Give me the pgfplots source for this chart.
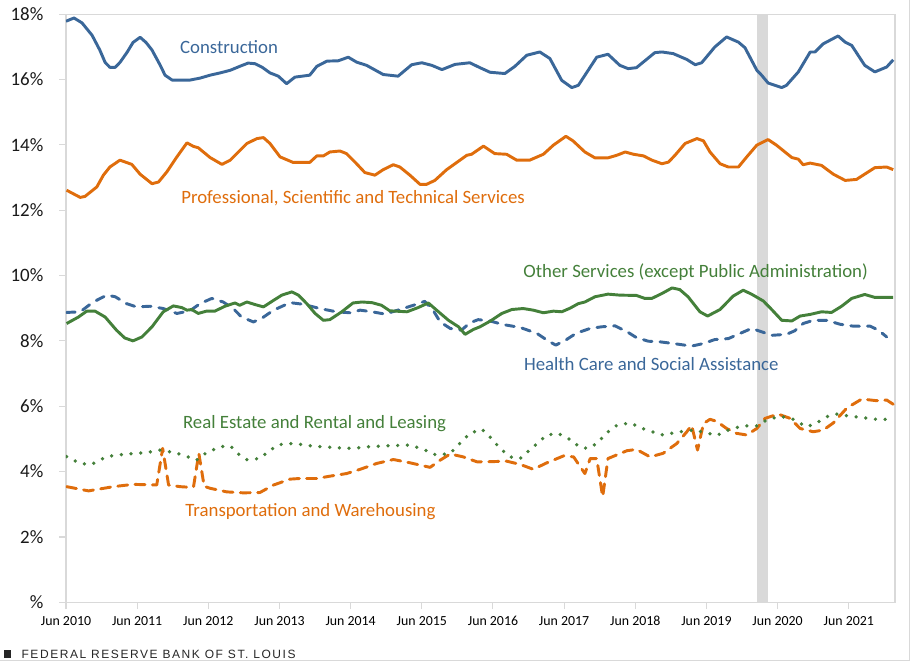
\documentclass[border=0pt]{standalone}
\usepackage{pgfplots}
\pgfplotsset{compat=1.18}
\usepackage{fontspec}
\setmainfont{Carlito}
\newfontfamily\footfont[LetterSpace=13]{Liberation Sans}
\definecolor{cblue}{HTML}{3A6799}
\definecolor{corange}{HTML}{DF6D0C}
\definecolor{cgreen}{HTML}{44803A}
\definecolor{lgray}{HTML}{D9D9D9}
\tikzset{lblfont/.style={font=\fontsize{14.1}{16}\selectfont}}
\begin{document}
\begin{tikzpicture}
\useasboundingbox (0,0) rectangle (682.5pt,495.75pt);
\draw[lgray, line width=0.75pt] (0,0.4pt) -- (682pt,0.4pt) -- (682pt,495.75pt);
\fill[black!85] (3pt,2.5pt) rectangle (8.5pt,8pt);
\node[anchor=west, inner sep=0pt, text=black!85] at (16pt,5.3pt) {\footfont\fontsize{9}{10}\selectfont FEDERAL RESERVE BANK OF ST. LOUIS};
\begin{axis}[
  at={(49.5pt,44pt)}, anchor=south west,
  scale only axis, width=621.75pt, height=441.2pt,
  xmin=0, xmax=139.8, ymin=0, ymax=18,
  axis line style={lgray, line width=0.8pt},
  tick style={lgray, line width=0.8pt},
  tick align=outside, major tick length=5pt,
  xtick pos=bottom, ytick pos=left,
  xtick={0,12,24,36,48,60,72,84,96,108,120,132},
  xticklabels={Jun 2010,Jun 2011,Jun 2012,Jun 2013,Jun 2014,Jun 2015,Jun 2016,Jun 2017,Jun 2018,Jun 2019,Jun 2020,Jun 2021},
  ytick={0,2,4,6,8,10,12,14,16,18},
  yticklabels={\%,2\%,4\%,6\%,8\%,10\%,12\%,14\%,16\%,18\%},
  yticklabel style={font=\fontsize{14.2}{16}\selectfont, text=black!90, xshift=-8.5pt},
  xticklabel style={font=\fontsize{10.4}{12}\selectfont, text=black, yshift=-2pt},
  every axis plot/.append style={line width=2.2pt, line join=round},
]
\fill[lgray] (axis cs:116.5,0) rectangle (axis cs:118.3,18);

% Construction
\addplot[cblue] coordinates {(0,17.78)(1.35,17.88)(2.7,17.73)(4.4,17.35)(5.7,16.9)(6.6,16.52)(7.4,16.37)(8.3,16.37)(9.1,16.52)(10.3,16.83)(11.3,17.13)(12.5,17.29)(13.5,17.13)(14.5,16.9)(15.9,16.43)(16.7,16.13)(17.9,15.98)(20.9,15.98)(22.6,16.04)(24.3,16.13)(26,16.2)(27.7,16.28)(29.3,16.4)(30.7,16.5)(31.9,16.48)(33.1,16.37)(34.4,16.2)(35.8,16.1)(37.2,15.87)(38.6,16.07)(41.1,16.13)(42.3,16.4)(44,16.56)(45.9,16.57)(47.6,16.68)(49,16.53)(50.7,16.43)(53.5,16.15)(56,16.1)(58.3,16.45)(60,16.51)(61.7,16.43)(63.4,16.3)(65.6,16.46)(68.1,16.51)(69.8,16.36)(71.5,16.22)(74,16.18)(75.7,16.4)(77.7,16.74)(79.9,16.84)(81.6,16.64)(83.6,15.97)(85.3,15.75)(86.4,15.82)(89.5,16.68)(91.4,16.77)(93.4,16.43)(94.8,16.33)(96.2,16.36)(99.3,16.82)(100.5,16.84)(102.4,16.79)(104.7,16.61)(106.1,16.45)(107.2,16.51)(109.4,16.99)(111.4,17.3)(113.4,17.14)(114.5,16.97)(116.5,16.28)(117.3,16.13)(118.4,15.89)(120.7,15.75)(121.5,15.82)(123.5,16.23)(125.5,16.84)(126.3,16.84)(127.7,17.09)(130.2,17.33)(131.4,17.14)(132.5,17.04)(134.7,16.43)(136.4,16.23)(138.4,16.38)(139.5,16.6)};

% Professional, Scientific and Technical Services
\addplot[corange] coordinates {(0.1,12.61)(2.4,12.39)(3.2,12.42)(5.2,12.71)(6.3,13.07)(7.4,13.32)(9.1,13.53)(11.1,13.4)(12.5,13.1)(14.5,12.81)(15.6,12.86)(17,13.17)(18.7,13.63)(20.4,14.06)(21.5,13.95)(22.3,13.91)(24.3,13.61)(26.3,13.4)(27.7,13.53)(30.5,14.04)(32.2,14.19)(33.3,14.22)(34.4,14.04)(36.1,13.63)(38.3,13.46)(41.1,13.46)(42.3,13.66)(43.4,13.66)(44.5,13.78)(46.2,13.81)(47.3,13.73)(49,13.42)(50.4,13.15)(52.1,13.07)(53.5,13.24)(55.2,13.39)(56.3,13.32)(58,13.07)(59.7,12.79)(60.8,12.79)(62.2,12.91)(64.2,13.24)(67.6,13.68)(68.4,13.71)(70.4,13.96)(72.3,13.73)(74.3,13.71)(76,13.53)(78.2,13.53)(80.5,13.71)(82.2,13.99)(84.3,14.26)(85.5,14.12)(87.5,13.78)(89.2,13.6)(91.4,13.6)(92.9,13.68)(94.3,13.78)(95.7,13.71)(97.4,13.66)(98.8,13.53)(100.5,13.42)(101.6,13.47)(102.7,13.68)(104.4,14.04)(106.4,14.19)(107.5,14.12)(108.6,13.78)(110.3,13.42)(111.7,13.32)(113.4,13.32)(114.8,13.63)(116.5,13.99)(118.4,14.16)(119.8,13.99)(122.4,13.61)(123.5,13.56)(124.3,13.39)(125.5,13.44)(127.4,13.37)(129.4,13.1)(131.4,12.91)(133.3,12.94)(136.4,13.3)(138.4,13.32)(139.5,13.24)};

% Health Care and Social Assistance
\addplot[cblue, line cap=round, dash pattern=on 6.5pt off 6pt] coordinates {(0.1,8.87)(2.4,8.89)(4.6,9.19)(6.9,9.4)(8.3,9.35)(10.2,9.14)(11.9,9.04)(14.2,9.06)(16.4,8.99)(18.7,8.84)(20.9,8.92)(22.6,9.14)(24.6,9.3)(26.5,9.19)(28.2,8.99)(29.6,8.73)(31.6,8.58)(33,8.69)(35,8.94)(37.8,9.17)(40,9.12)(42.8,8.99)(45.6,8.89)(47.9,8.86)(49.6,8.94)(51.6,8.89)(53.8,8.82)(56.3,8.96)(58.6,9.09)(60.5,9.21)(61.9,8.94)(63.1,8.58)(64.8,8.38)(66.7,8.33)(68.1,8.55)(69.5,8.65)(71.5,8.61)(73.7,8.5)(76.6,8.41)(79.4,8.23)(81.3,8.0)(82.6,7.87)(84.4,8.04)(86.1,8.24)(88.4,8.38)(90.3,8.43)(92.6,8.46)(94.6,8.28)(96.2,8.1)(98.2,7.99)(100.2,7.97)(102.4,7.92)(105.5,7.84)(107.5,7.92)(109.4,8.04)(111.7,8.07)(113.7,8.23)(115.6,8.38)(117.6,8.26)(119,8.17)(121.5,8.2)(122.9,8.31)(124.3,8.53)(126,8.63)(128.3,8.63)(130.5,8.51)(132.8,8.45)(135.6,8.45)(137,8.33)(138.4,8.12)};

% Other Services
\addplot[cgreen] coordinates {(0.1,8.53)(2.1,8.73)(3.5,8.91)(4.9,8.91)(6.6,8.73)(8.5,8.33)(9.9,8.09)(11.3,8.0)(12.8,8.12)(14.5,8.43)(16.4,8.89)(18.1,9.07)(19.5,9.02)(20.4,8.94)(21.2,8.96)(22.3,8.84)(23.7,8.91)(25.1,8.91)(26.8,9.06)(28.5,9.16)(29.3,9.09)(30.5,9.19)(31.9,9.11)(33.3,9.04)(35,9.24)(36.4,9.4)(38.1,9.5)(39.2,9.4)(40.6,9.14)(42,8.84)(43.4,8.63)(44.5,8.65)(46.5,8.89)(48.4,9.16)(49.9,9.19)(51.6,9.17)(53.2,9.09)(54.6,8.92)(57.5,8.89)(59.4,9.02)(61.1,9.16)(62.5,8.94)(64.5,8.63)(66.2,8.43)(67.3,8.2)(68.7,8.35)(69.8,8.43)(71.5,8.6)(73.5,8.84)(75.2,8.96)(77.1,8.99)(78.8,8.94)(80.5,8.86)(82.2,8.91)(83.6,8.89)(85,9.0)(86.4,9.14)(87.5,9.19)(89.2,9.35)(91.4,9.43)(93.4,9.4)(96.2,9.39)(97.6,9.3)(98.8,9.3)(100.5,9.45)(102.2,9.62)(103.5,9.57)(104.9,9.35)(106.9,8.89)(108.2,8.76)(110.3,8.96)(112.5,9.37)(114.2,9.55)(115.6,9.43)(117.6,9.22)(119,8.96)(120.7,8.63)(122.4,8.61)(123.8,8.76)(125.5,8.81)(127.4,8.89)(129.1,8.87)(130.8,9.06)(132.5,9.3)(134.7,9.42)(136.4,9.33)(139.5,9.33)};

% Transportation and Warehousing
\addplot[corange, line cap=round, dash pattern=on 7.5pt off 5.5pt] coordinates {(0.1,3.54)(3.8,3.41)(8,3.54)(11.3,3.61)(15.3,3.59)(16.3,4.71)(17.3,3.59)(19.2,3.54)(20.9,3.52)(21.5,3.53)(22.4,4.56)(23.3,3.55)(24.3,3.49)(27.1,3.38)(29.9,3.35)(32.7,3.36)(35,3.59)(37.8,3.77)(39.5,3.79)(42.3,3.79)(44.5,3.86)(47.3,3.94)(49.6,4.07)(52.4,4.25)(55.2,4.37)(58,4.27)(61.4,4.13)(63.1,4.35)(64.8,4.54)(67,4.45)(69.3,4.3)(70.9,4.3)(74.3,4.32)(76.6,4.22)(78.8,4.07)(81.1,4.27)(83.9,4.48)(85.6,4.45)(87.5,3.94)(88.4,4.4)(89.5,4.4)(90.5,3.23)(91.4,4.4)(94.6,4.64)(96.2,4.68)(98.5,4.45)(100.7,4.56)(103,4.86)(104.7,5.22)(105.5,5.42)(106.5,4.66)(107.5,5.47)(108.6,5.6)(109.7,5.54)(111.4,5.32)(113.1,5.17)(114.8,5.12)(116.5,5.32)(117.9,5.63)(120.1,5.76)(122.1,5.63)(123.8,5.32)(126,5.22)(127.7,5.27)(129.4,5.49)(131.7,5.95)(134.2,6.22)(136.7,6.17)(138.4,6.19)(139.5,6.06)};

% Real Estate and Rental and Leasing
\addplot[cgreen, line width=2.8pt, line cap=round, dash pattern=on 0pt off 7.3pt] coordinates {(0.1,4.46)(2.4,4.25)(4.3,4.22)(6.9,4.46)(10.2,4.54)(13.6,4.58)(15.9,4.66)(18.4,4.58)(20.4,4.46)(22,4.35)(23.7,4.58)(26,4.76)(27.7,4.79)(29.3,4.5)(30.5,4.37)(32.7,4.4)(34.4,4.66)(36.1,4.83)(38.3,4.86)(41.7,4.78)(45.6,4.73)(48.4,4.71)(50.7,4.76)(54.1,4.79)(58,4.81)(60.3,4.68)(62.5,4.5)(64.8,4.56)(66.4,4.86)(68.1,5.17)(70.1,5.3)(71.5,5.06)(73.2,4.71)(74.9,4.45)(76.6,4.4)(78.5,4.71)(81.1,5.12)(83,5.17)(85,4.98)(86.7,4.74)(88.1,4.71)(89.5,4.86)(91.2,5.19)(92.9,5.42)(95.1,5.49)(97.9,5.27)(100.7,5.12)(103.5,5.22)(105.8,5.27)(107.8,5.2)(109.7,5.1)(111.9,5.29)(114.2,5.4)(116.5,5.4)(118.2,5.58)(120.4,5.7)(122.6,5.6)(124.9,5.37)(126.6,5.49)(128.3,5.68)(130,5.76)(131.7,5.71)(134,5.66)(136.7,5.6)(139.2,5.6)};

\node[anchor=west, inner sep=0pt, text=cblue, lblfont] at (axis cs:19.2,16.98) {Construction};
\node[anchor=west, inner sep=0pt, text=corange, lblfont] at (axis cs:19.4,12.36) {Professional, Scientific and Technical Services};
\node[anchor=west, inner sep=0pt, text=cgreen, lblfont] at (axis cs:77.1,10.1) {Other Services (except Public Administration)};
\node[anchor=west, inner sep=0pt, text=cblue, lblfont] at (axis cs:77.2,7.29) {Health Care and Social Assistance};
\node[anchor=west, inner sep=0pt, text=cgreen, lblfont] at (axis cs:19.7,5.48) {Real Estate and Rental and Leasing};
\node[anchor=west, inner sep=0pt, text=corange, lblfont] at (axis cs:20.1,2.79) {Transportation and Warehousing};
\end{axis}
\end{tikzpicture}
\end{document}
